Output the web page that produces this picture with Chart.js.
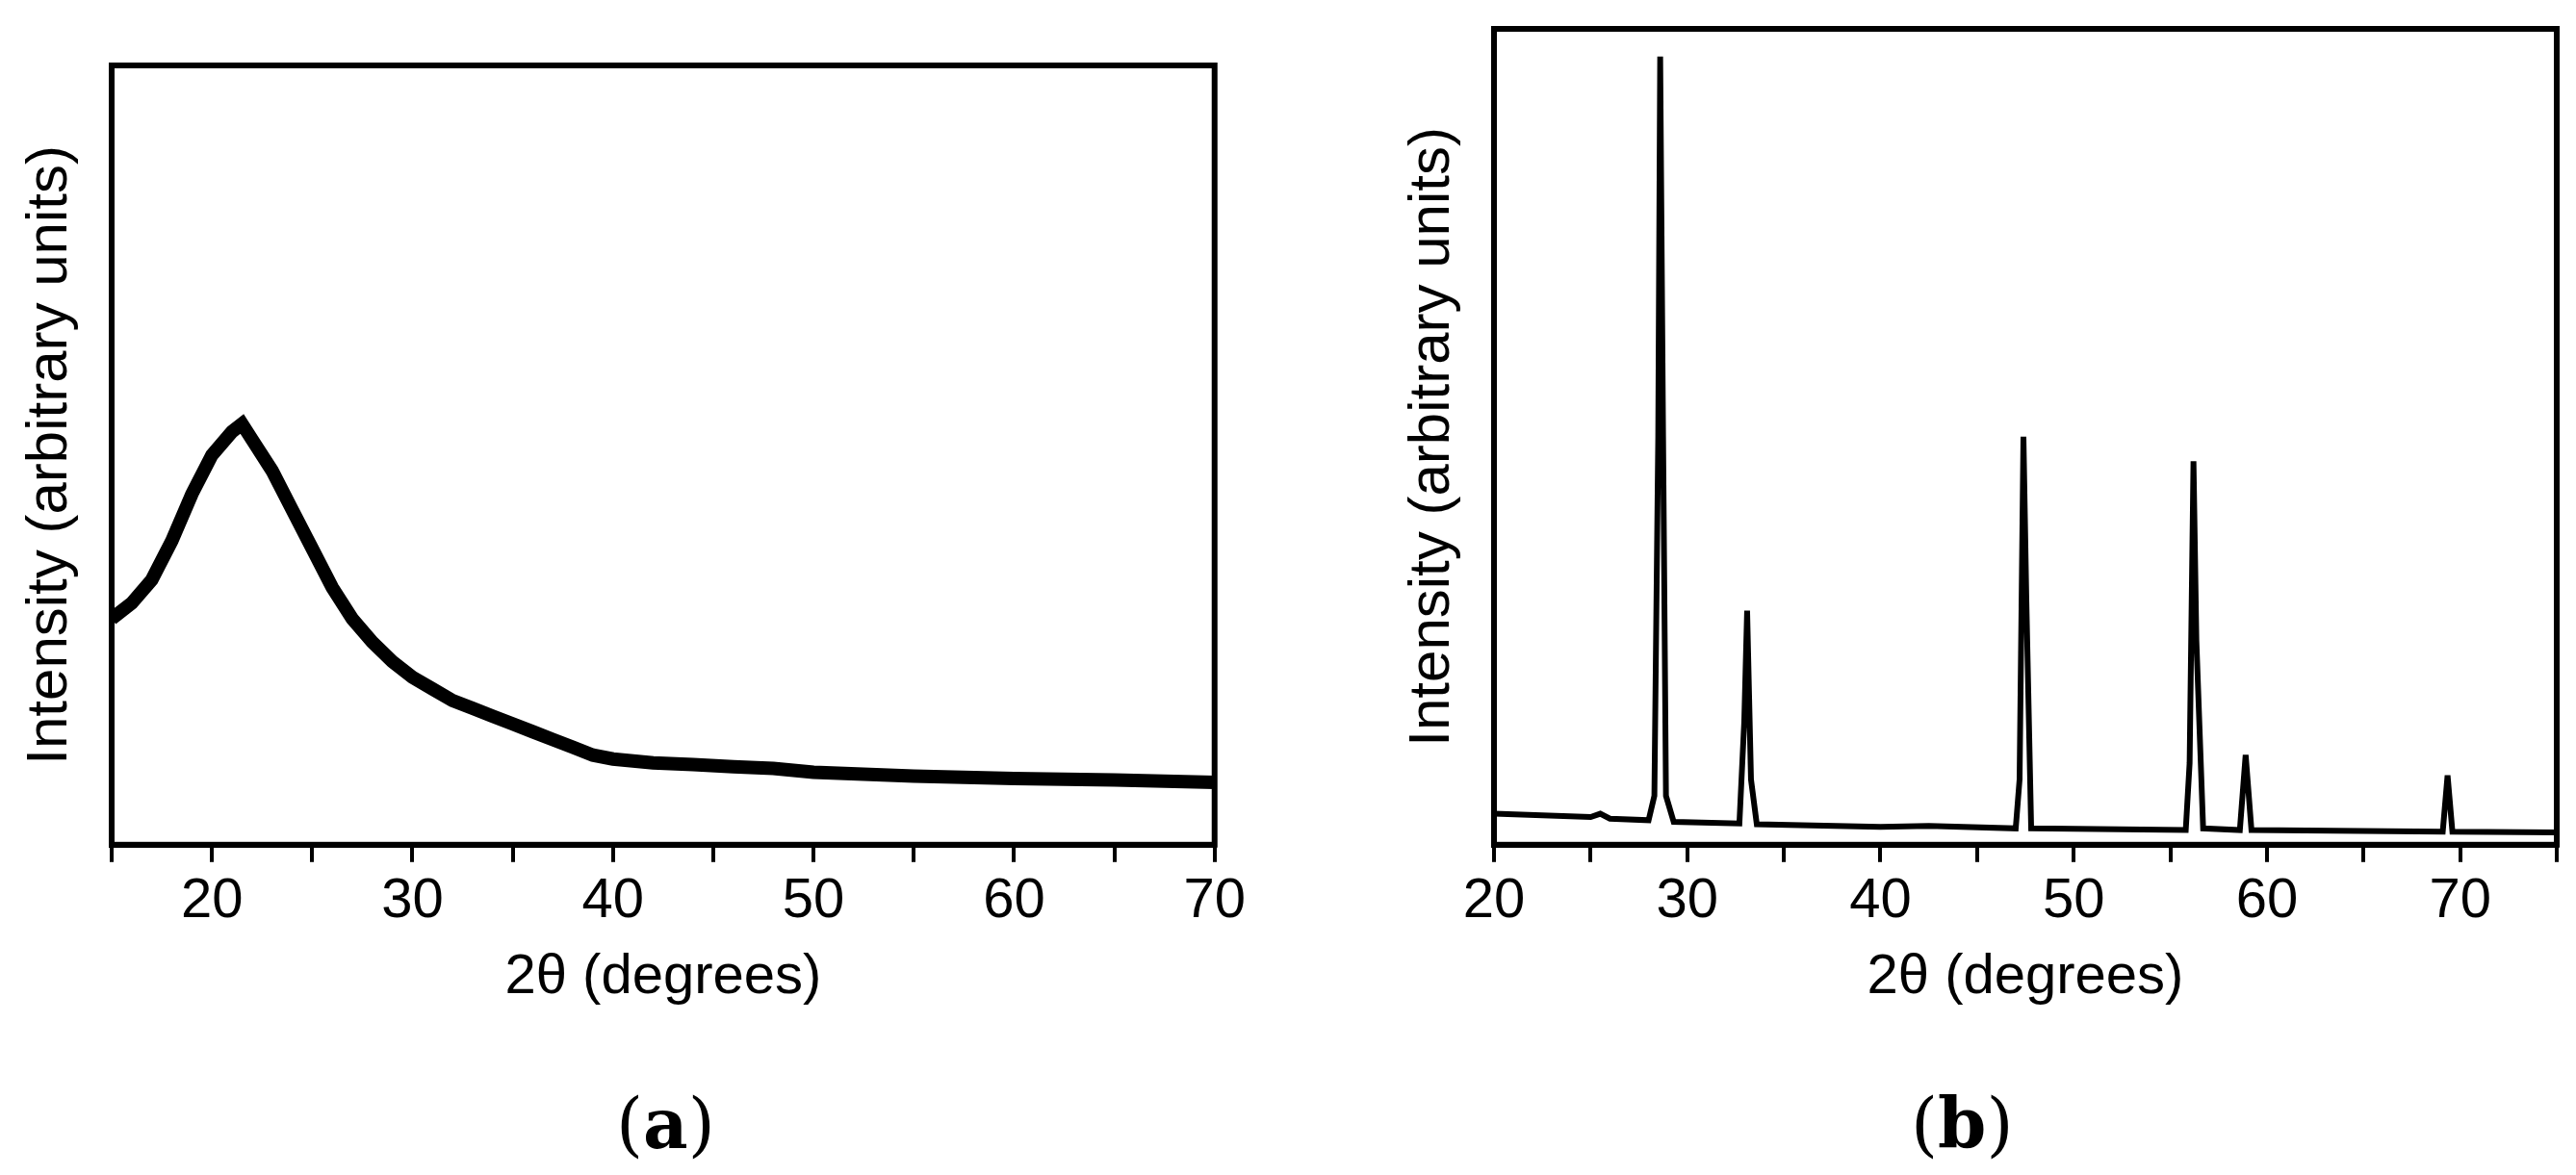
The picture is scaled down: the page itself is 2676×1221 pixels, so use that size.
<!DOCTYPE html>
<html><head><meta charset="utf-8">
<script src="https://cdn.jsdelivr.net/npm/chart.js@4"></script>
<style>
body{margin:0;background:#fff;width:2676px;height:1221px;position:relative;overflow:hidden}
.w{position:absolute;top:0}
.lab{position:absolute;top:1125px;font-family:"DejaVu Serif","Liberation Serif",serif;font-size:72px;color:#000}
</style></head><body>
<div class="w" style="left:0;width:1300px;height:1055px"><canvas id="ca"></canvas></div>
<div class="w" style="left:1420px;width:1256px;height:1055px"><canvas id="cb"></canvas></div>
<div class="lab" style="left:640px">(<b>a</b>)</div>
<div class="lab" style="left:1985px">(<b>b</b>)</div>
<script>
const xA=[15,16,17,18,19,20,21,21.5,22,23,24,25,26,27,28,29,30,31,32,33,34,35,36,37,38,39,40,42,44,46,48,50,55,60,65,70];
const yA=[29,31,34,39,45,50,53,54,52,48,43,38,33,29,26,23.5,21.5,20,18.5,17.5,16.5,15.5,14.5,13.5,12.5,11.5,11,10.5,10.3,10,9.8,9.3,8.8,8.5,8.3,8];
const xB=[20,25,25.5,26,28,28.3,28.5,28.6,28.75,28.9,29.3,32.7,32.95,33.1,33.3,33.6,40,42.5,47,47.2,47.4,47.55,47.8,55.8,56.0,56.2,56.35,56.7,58.6,58.9,59.2,69.1,69.35,69.6,75];
const yB=[3.8,3.4,3.8,3.2,3,6,50,96.6,50,6,2.8,2.6,15,28.7,8,2.5,2.2,2.3,2,8,50,30,2,1.8,10,47,25,2,1.8,11,1.8,1.6,8.5,1.6,1.5];
const xTicksA=[20,30,40,50,60,70];
const xTicksB=[20,30,40,50,60,70];
const yTitle='Intensity (arbitrary units)';
const xTitle='2θ (degrees)';

const frame={id:'frame',afterDraw(c){const a=c.chartArea,x=c.ctx;x.save();x.strokeStyle='#000';x.lineWidth=6;x.strokeRect(a.left,a.top,a.right-a.left,a.bottom-a.top);x.restore();}};
function make(id,xs,ys,min,max,labels,bw,padL,padT){
  new Chart(document.getElementById(id),{type:'line',
    data:{datasets:[{data:xs.map((v,i)=>({x:v,y:ys[i]})),borderColor:'#000',borderWidth:bw,pointRadius:0,tension:0}]},
    options:{responsive:true,maintainAspectRatio:false,animation:false,
      layout:{padding:{left:padL,top:padT,right:20,bottom:0}},
      plugins:{legend:{display:false},tooltip:{enabled:false}},
      scales:{
        x:{type:'linear',min:min,max:max,
          ticks:{stepSize:5,autoSkip:false,maxRotation:0,color:'#000',font:{family:'Liberation Sans',size:58},padding:6,
            callback:v=>labels.includes(v)?String(v):''},
          grid:{drawOnChartArea:false,color:'#000',lineWidth:4,tickLength:18},
          border:{color:'#000',width:6},
          title:{display:true,text:xTitle,color:'#000',font:{family:'Liberation Sans',size:58},padding:{top:4}}},
        y:{min:0,max:100,ticks:{display:false},grid:{display:false},border:{color:'#000',width:6},
          title:{display:true,text:yTitle,color:'#000',font:{family:'Liberation Sans',size:60},padding:{bottom:20}}}
      }},plugins:[frame]});
}
make('ca',xA,yA,15,70,xTicksA,14,12,68);
make('cb',xB,yB,20,75,xTicksB,6,28,30);
</script></body></html>
